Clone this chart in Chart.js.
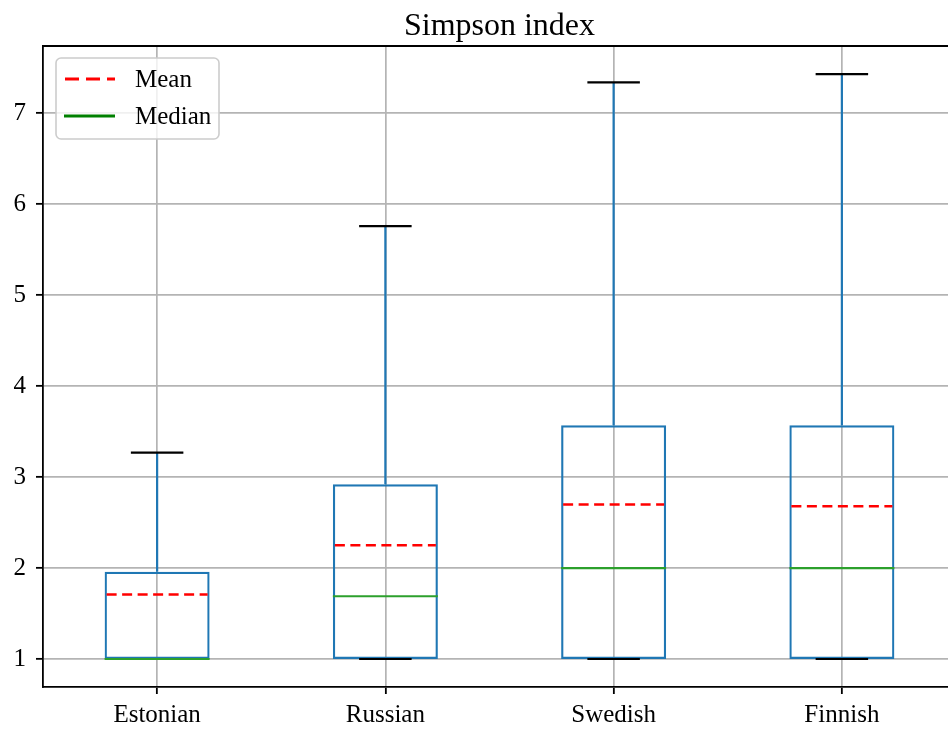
<!DOCTYPE html>
<html lang="en">
<head>
  <meta charset="UTF-8" />
  <title>Simpson index</title>
  <script src="https://cdn.jsdelivr.net/npm/chart.js"></script>
  <style>
    html, body {
      margin: 0;
      padding: 0;
      background: #ffffff;
      overflow: hidden;
    }
    #wrap {
      width: 948px;
      height: 730px;
      overflow: hidden;
    }
    canvas {
      display: block;
    }
  </style>
</head>
<body>
  <div id="wrap">
    <canvas id="boxChart" width="960" height="730"></canvas>
  </div>

  <script>
    // values
    const categories = ['Estonian', 'Russian', 'Swedish', 'Finnish'];
    const whiskerLow = [1, 1, 1, 1];
    const q1 = [1, 1, 1, 1];
    const medians = [1.0, 1.69, 2.0, 2.0];
    const means = [1.71, 2.25, 2.70, 2.68];
    const q3 = [1.96, 2.92, 3.57, 3.57];
    const whiskerHigh = [3.27, 5.76, 7.34, 7.43];
    const yTicks = [1, 2, 3, 4, 5, 6, 7];
    const legendLabels = ['Mean', 'Median'];
    const titleText = 'Simpson index';

    const FONT = '"Liberation Serif", "Times New Roman", serif';
    const BLUE = '#1f77b4';
    const GREEN = '#2ca02c';
    const MEAN_RED = '#ff0000';

    const boxParts = {
      id: 'boxParts',
      afterDatasetsDraw(chart) {
        const ctx = chart.ctx;
        const y = chart.scales.y;
        const bars = chart.getDatasetMeta(0).data;
        ctx.save();
        ctx.lineCap = 'butt';
        bars.forEach((bar, i) => {
          const cx = bar.x;
          const half = bar.width / 2;
          const capHalf = bar.width / 4;

          // whiskers
          ctx.strokeStyle = BLUE;
          ctx.lineWidth = 2.2;
          ctx.beginPath();
          ctx.moveTo(cx, y.getPixelForValue(q3[i]));
          ctx.lineTo(cx, y.getPixelForValue(whiskerHigh[i]));
          ctx.moveTo(cx, y.getPixelForValue(q1[i]));
          ctx.lineTo(cx, y.getPixelForValue(whiskerLow[i]));
          ctx.stroke();

          // caps
          ctx.strokeStyle = '#000000';
          ctx.beginPath();
          [whiskerHigh[i], whiskerLow[i]].forEach(v => {
            const py = y.getPixelForValue(v);
            ctx.moveTo(cx - capHalf, py);
            ctx.lineTo(cx + capHalf, py);
          });
          ctx.stroke();

          // median
          ctx.strokeStyle = GREEN;
          ctx.beginPath();
          const my = y.getPixelForValue(medians[i]);
          ctx.moveTo(cx - half, my);
          ctx.lineTo(cx + half, my);
          ctx.stroke();

          // mean
          ctx.strokeStyle = MEAN_RED;
          ctx.lineWidth = 2.5;
          ctx.setLineDash([10, 5.5]);
          ctx.beginPath();
          const mny = y.getPixelForValue(means[i]);
          ctx.moveTo(cx - half + 2, mny);
          ctx.lineTo(cx + half - 2, mny);
          ctx.stroke();
          ctx.setLineDash([]);
        });
        ctx.restore();
      },
      afterDraw(chart) {
        const ctx = chart.ctx;
        const area = chart.chartArea;
        ctx.save();

        // top and right spines
        ctx.strokeStyle = '#000000';
        ctx.lineWidth = 1.8;
        ctx.beginPath();
        ctx.moveTo(area.left, area.top);
        ctx.lineTo(area.right, area.top);
        ctx.lineTo(area.right, area.bottom);
        ctx.stroke();

        // title
        ctx.fillStyle = '#000000';
        ctx.font = '32px ' + FONT;
        ctx.textAlign = 'center';
        ctx.textBaseline = 'alphabetic';
        ctx.fillText(titleText, (area.left + area.right) / 2, 35);

        // legend
        const lx = 56, ly = 58, lw = 163, lh = 81;
        ctx.fillStyle = 'rgba(255,255,255,0.8)';
        ctx.strokeStyle = '#cccccc';
        ctx.lineWidth = 1.6;
        ctx.beginPath();
        ctx.roundRect(lx, ly, lw, lh, 5);
        ctx.fill();
        ctx.stroke();

        const rows = [79, 116];
        ctx.lineWidth = 3;
        ctx.strokeStyle = MEAN_RED;
        ctx.setLineDash([14, 7]);
        ctx.beginPath();
        ctx.moveTo(65, rows[0]);
        ctx.lineTo(115, rows[0]);
        ctx.stroke();
        ctx.setLineDash([]);
        ctx.strokeStyle = 'green';
        ctx.beginPath();
        ctx.moveTo(64, rows[1]);
        ctx.lineTo(115, rows[1]);
        ctx.stroke();

        ctx.fillStyle = '#000000';
        ctx.font = '25px ' + FONT;
        ctx.textAlign = 'left';
        ctx.textBaseline = 'middle';
        legendLabels.forEach((t, i) => ctx.fillText(t, 135, rows[i] + 1));
        ctx.restore();
      }
    };

    const ctx = document.getElementById('boxChart').getContext('2d');
    new Chart(ctx, {
      type: 'bar',
      data: {
        labels: categories,
        datasets: [{
          label: 'box',
          data: q1.map((v, i) => [v, q3[i]]),
          backgroundColor: 'rgba(0,0,0,0)',
          borderColor: BLUE,
          borderWidth: 2.2,
          borderSkipped: false,
          barPercentage: 0.46,
          categoryPercentage: 1
        }]
      },
      options: {
        responsive: false,
        animation: false,
        layout: { padding: { top: 46, right: 4, left: 0, bottom: 0 } },
        plugins: {
          legend: { display: false },
          title: { display: false },
          tooltip: { enabled: false }
        },
        scales: {
          x: {
            offset: true,
            grid: {
              offset: false,
              color: '#b4b4b4',
              lineWidth: 1.7,
              tickColor: '#000000',
              tickWidth: 1.8,
              tickLength: 7
            },
            border: { color: '#000000', width: 1.8 },
            ticks: {
              color: '#000000',
              font: { family: FONT, size: 25 },
              padding: 6,
              maxRotation: 0
            },
            afterFit(scale) { scale.height = 43; }
          },
          y: {
            min: 0.692,
            max: 7.74,
            grid: {
              color: '#b4b4b4',
              lineWidth: 1.7,
              tickColor: '#000000',
              tickWidth: 1.8,
              tickLength: 7
            },
            border: { color: '#000000', width: 1.8 },
            ticks: {
              color: '#000000',
              font: { family: FONT, size: 25 },
              padding: 10
            },
            afterBuildTicks(scale) {
              scale.ticks = yTicks.map(v => ({ value: v }));
            },
            afterFit(scale) { scale.width = 43; }
          }
        }
      },
      plugins: [boxParts]
    });
  </script>
</body>
</html>
